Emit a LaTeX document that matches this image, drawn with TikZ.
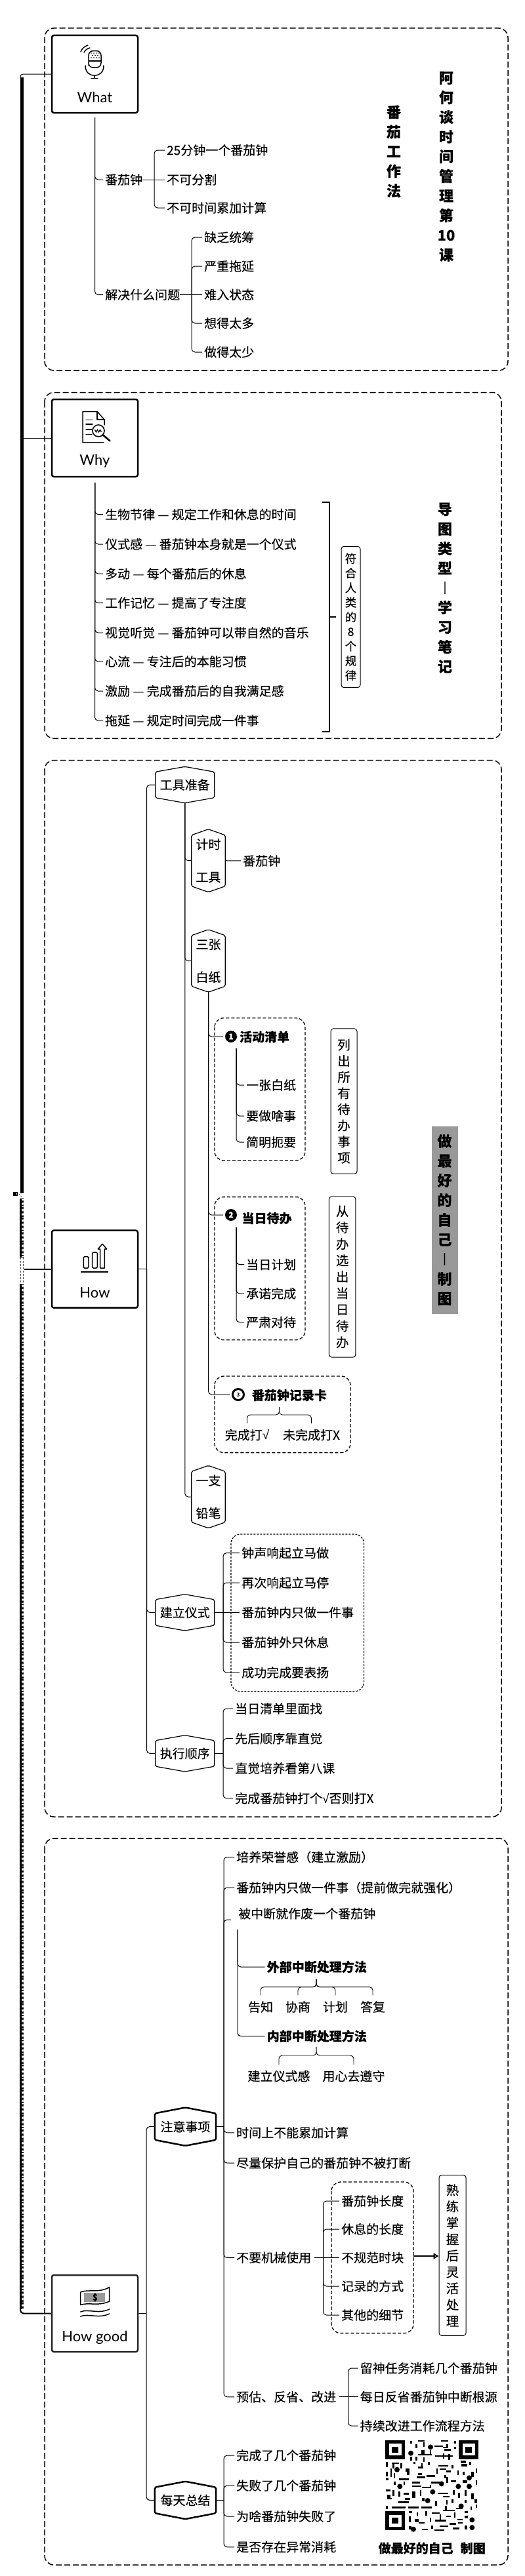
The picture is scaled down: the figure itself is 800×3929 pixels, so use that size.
\documentclass[tikz,border=0pt]{standalone}
\usepackage{fontspec}
\setmainfont{Noto Sans CJK SC}[FakeBold=0.15]
\newfontfamily\latinf{Lato}
\newfontfamily\symf{Liberation Sans}
\newcommand{\chk}{{\symf √}}
\usetikzlibrary{arrows.meta}
\tikzset{
  frame/.style={line width=1.5pt,dash pattern=on 9pt off 4pt,rounded corners=14pt},
  subframe/.style={line width=1.3pt,dash pattern=on 5pt off 3pt,rounded corners=14pt},
  rootbox/.style={draw,line width=2.5pt,rounded corners=3pt,inner sep=0pt,minimum width=131pt},
  rootlabel/.style={inner sep=0pt,font=\latinf\fontsize{22}{26}\selectfont},
  conn/.style={line width=1pt,rounded corners=5pt,shorten >=3pt},
  plainline/.style={line width=1pt},
  thickline/.style={line width=2pt},
  txt/.style={anchor=west,inner sep=0pt,text height=16.7pt,text depth=2.3pt,font=\fontsize{19}{24}\selectfont},
  btxt/.style={txt,font=\bfseries\fontsize{19}{24}\selectfont},
  ctxt/.style={inner sep=0pt,text height=16.7pt,text depth=2.3pt,font=\fontsize{19}{24}\selectfont},
  title/.style={inner sep=0pt,align=center,font=\bfseries\fontsize{22}{30}\selectfont},
  graytitle/.style={title,fill=black!40,minimum width=40pt,minimum height=286pt},
  vnote/.style={draw,line width=1pt,rounded corners=4pt,inner sep=0pt,align=center},
  hextext/.style={inner sep=0pt,align=center,font=\fontsize{19}{50}\selectfont},
  hexline/.style={line width=1.2pt,rounded corners=2pt,line join=round},
  hexthick/.style={line width=2.5pt,rounded corners=2pt,line join=round},
  numdot/.style={circle,fill=black,text=white,inner sep=0pt,minimum size=18pt,font=\bfseries\fontsize{12}{12}\selectfont},
  numring/.style={circle,draw,line width=3pt,inner sep=0pt,minimum size=17pt,font=\fontsize{8}{8}\selectfont},
  icon/.style={line width=1.5pt,line cap=round,line join=round},
  trunkline/.style={line width=5pt},
}
\newcommand{\hexn}[8]{% name, cx, cy, w, h, shoulder, style, text
  \node[hextext,minimum width=#4pt,minimum height=#5pt] (#1) at (#2,#3) {#8};
  \draw[#7] (#1.north) -- ([yshift=-#6pt]#1.north east) -- ([yshift=#6pt]#1.south east) -- (#1.south)
    -- ([yshift=#6pt]#1.south west) -- ([yshift=-#6pt]#1.north west) -- cycle;
}
\newcommand{\finder}[2]{%
  \fill (580+#1/3,3715+#2/3) rectangle (580+#1/3+30,3715+#2/3+29);
  \fill[white] (580+#1/3+5.5,3715+#2/3+5.5) rectangle (580+#1/3+24.5,3715+#2/3+23.5);
  \fill (580+#1/3+10,3715+#2/3+10) rectangle (580+#1/3+20,3715+#2/3+19);
}
\begin{document}
\begin{tikzpicture}[x=1pt,y=-1pt]
\useasboundingbox (0,0) rectangle (800,3929);
\fill[white] (0,0) rectangle (800,3929);

% dashed frames
\draw[frame] (68,43) rectangle (774,565);
\draw[frame] (68,598.5) rectangle (764,1126.4);
\draw[frame] (68,1159.5) rectangle (764,2771);
\draw[frame] (68,2804) rectangle (774,3912);

% ---------- root boxes
\node[rootbox,minimum height=118pt] (what) at (144.5,113) {};
\node[rootbox,minimum height=118pt] (why) at (144.5,668) {};
\node[rootbox,minimum height=118pt] (how) at (144.5,1935.7) {};
\node[rootbox,minimum height=117pt,draw=black!85] (good) at (144.5,3528.5) {};
\node[rootlabel] (whatl) at (144.5,148) {What};
\node[rootlabel] (whyl) at (144.5,703) {Why};
\node[rootlabel] (howl) at (144.5,1972) {How};
\node[rootlabel] (goodl) at (144.5,3565) {How good};

% trunk
\coordinate (trunktop) at (33,113);
\coordinate (trunkmid) at (33,1821);
\coordinate (trunkend) at (33,3528.4);
\draw[trunkline] (33,118) -- (trunkmid);
\draw[line width=1pt,rounded corners=4pt] (31,118) |- (what.west);
\draw[line width=1pt] (33,668) -- (why.west);
\draw[line width=3pt] (31,1821) -- (31,3522);
\draw[line width=4pt,dash pattern=on 1pt off 0.9pt] (34,1828) -- (34,3522);
\draw[thickline,rounded corners=5pt] (31,3515) |- (good.west);
\fill[white] (29,1918) rectangle (37,1958);
\draw[line width=0.8pt,dash pattern=on 3pt off 2pt,black!70] (31,1918) -- (31,1958) (35.5,1918) -- (35.5,1958);
\draw[thickline] (36.5,1935.7) -- (how.west);
\fill[white] (28,1820) rectangle (36,1828);
\fill (20,1818) rectangle (26.7,1824);
\fill[white] (24.5,1820) rectangle (26,1822);
\draw[line width=0.8pt,dash pattern=on 2pt off 2pt,black!70] (29,1821) -- (34,1827);

% ---------- What icon (microphone)
\draw[icon,rounded corners=7pt] (135,93) -- (135,77.5) -- (154,77.5) -- (154,103) -- (135,103) -- cycle;
\draw[line width=1.2pt] (135,93) -- (154,93);
\foreach \px/\py in {139/81,143/81,147/81,151/81,141/84.5,145/84.5,149/84.5,139/88,143/88,147/88,151/88}
  \fill (\px,\py) circle (0.9pt);
\draw[icon] (130,100) .. controls (130,110) and (136,115) .. (144,115) .. controls (152,115) and (158,110) .. (158,100);
\draw[icon] (144,115) -- (144,119) (139,119.5) -- (149,119.5);
\draw[icon] (123,79) .. controls (125,74) and (128,71) .. (134,69);
\draw[icon] (128,80) .. controls (130,76) and (133,74) .. (137,73);

% ---------- Why icon
\draw[icon] (159,648) -- (159,640) -- (148,627.5) -- (126,627.5) -- (126,675) -- (158,675);
\draw[icon] (148,627.5) -- (148,640) -- (159,640);
\draw[icon] (131,640.7) -- (141,640.7) (131,647) -- (141,647) (131,655) -- (140,655) (131,662.7) -- (140,662.7);
\draw[line width=1.6pt] (150,657) circle (9pt);
\draw[line width=1.2pt] (144.5,655.5) -- (146.5,659) -- (148.5,655.5) -- (150.5,659) -- (152.5,655.5) -- (154.5,659);
\draw[line width=2.6pt,line cap=round] (157,663.5) -- (167.5,672.5);

% ---------- How icon
\draw[icon,rounded corners=1.5pt] (127.3,1916.7) rectangle (135,1934);
\draw[icon,rounded corners=1.5pt] (140.7,1910) rectangle (148.3,1934);
\draw[icon] (152.7,1934) -- (152.7,1905) -- (149.3,1905) -- (156,1897.3) -- (162.7,1905) -- (159.3,1905) -- (159.3,1934) -- cycle;
\draw[line width=1.6pt] (123.3,1940) -- (165,1940);

% ---------- How good icon
\fill[black!40] (128,3497) rectangle (160,3511);
\draw[icon] (122.7,3496) .. controls (135,3491) and (150,3498) .. (166.7,3488.5) -- (166.7,3510)
  .. controls (150,3518) and (135,3511) .. (122.7,3515.5) -- cycle;
\node[inner sep=0pt,font=\bfseries\fontsize{13}{13}\selectfont] (dollar) at (145,3504) {\$};
\draw[icon] (122.7,3526) .. controls (135,3521) and (150,3530) .. (166.7,3522);
\draw[icon] (122.7,3533) .. controls (135,3528) and (150,3537) .. (166.7,3529);

% ---------- WHAT branch
\node[txt] (w1) at (160,274) {番茄钟};
\node[txt] (w2) at (160,449.5) {解决什么问题};
\draw[conn,shorten <=6pt] (what.south) |- (w1.west);
\draw[conn,shorten <=6pt] (what.south) |- (w2.west);
\node[txt] (w11) at (254,229) {25分钟一个番茄钟};
\node[txt] (w12) at (254,274) {不可分割};
\node[txt] (w13) at (254,317) {不可时间累加计算};
\coordinate (wb1) at (235,274);
\draw[conn] (w1.east) -- (w12.west);
\draw[conn] (wb1) |- (w11.west);
\draw[conn] (wb1) |- (w13.west);
\node[txt] (w21) at (311,362) {缺乏统筹};
\node[txt] (w22) at (311,406) {严重拖延};
\node[txt] (w23) at (311,449.5) {难入状态};
\node[txt] (w24) at (311,493) {想得太多};
\node[txt] (w25) at (311,537) {做得太少};
\coordinate (wb2) at (292,449.5);
\draw[conn] (w2.east) -- (w23.west);
\draw[conn] (wb2) |- (w21.west);
\draw[conn] (wb2) |- (w22.west);
\draw[conn] (wb2) |- (w24.west);
\draw[conn] (wb2) |- (w25.west);
\node[title] (t1) at (680,254) {阿\\何\\谈\\时\\间\\管\\理\\第\\10\\课};
\node[title] (t2) at (600,231) {番\\茄\\工\\作\\法};

% ---------- WHY branch
\foreach \nm/\yy/\tx in {
  y1/784.6/生物节律 — 规定工作和休息的时间,
  y2/830/仪式感 — 番茄钟本身就是一个仪式,
  y3/875/多动 — 每个番茄后的休息,
  y4/919.6/工作记忆 — 提高了专注度,
  y5/965/视觉听觉 — 番茄钟可以带自然的音乐,
  y6/1009/心流 — 专注后的本能习惯,
  y7/1054/激励 — 完成番茄后的自我满足感,
  y8/1099/拖延 — 规定时间完成一件事}{
  \node[txt] (\nm) at (160,\yy) {\tx};
  \draw[conn,shorten <=8pt] (why.south) |- (\nm.west);
}
\node[vnote,minimum width=29pt,minimum height=215.3pt,font=\fontsize{17.5}{22.3}\selectfont] (rule) at (534.5,941) {符\\合\\人\\类\\的\\8\\个\\规\\律};
\draw[line width=1.5pt] (491,766) -- (502,766) -- (502,1116) -- (491,1116);
\coordinate (brk) at (502,941);
\draw[line width=1.5pt,shorten >=8pt] (brk) -- (rule.west);
\node[title] (t3) at (678,896.7) {导\\图\\类\\型\\︱\\学\\习\\笔\\记};

% ---------- HOW branch
\coordinate (howbus) at (223.5,1935.7);
\draw[plainline] (how.east) -- (howbus);
\hexn{ha}{281.75}{1197}{89.5}{55}{8}{hexline}{工具准备}
\hexn{hb}{281.75}{2459.4}{89.5}{55}{8}{hexline}{建立仪式}
\hexn{hc}{281.75}{2674.4}{89.5}{55}{8}{hexline}{执行顺序}
\draw[plainline,rounded corners=5pt] (howbus) |- (ha.west);
\draw[plainline,rounded corners=5pt] (howbus) |- (hb.west);
\draw[plainline,rounded corners=5pt] (howbus) |- (hc.west);
\hexn{h1}{317.5}{1312.7}{51}{95.5}{9}{hexline}{计时\\工具}
\hexn{h2}{317.5}{1465.5}{51}{95}{9}{hexline}{三张\\白纸}
\hexn{h3}{317.5}{2283}{51}{95}{9}{hexline}{一支\\铅笔}
\draw[plainline,rounded corners=5pt] (ha.south) |- (h1.west);
\draw[plainline,rounded corners=5pt] (ha.south) |- (h2.west);
\draw[plainline,rounded corners=5pt] (ha.south) |- (h3.west);
\node[txt] (h11) at (370,1313) {番茄钟};
\draw[conn] (h1.east) -- (h11.west);

% three lists
\draw[subframe] (327,1552.7) rectangle (465,1770);
\draw[subframe] (327,1825.6) rectangle (465,2043.7);
\draw[subframe] (327,2099) rectangle (534,2215.6);
\node[numdot] (n1) at (352,1581) {1};
\node[numdot] (n2) at (352,1853) {2};
\node[numring] (n3) at (363,2127) {3};
\draw[conn] (h2.south) |- (n1.west);
\draw[conn] (h2.south) |- (n2.west);
\draw[conn] (h2.south) |- (n3.west);
\node[btxt] (a0) at (365,1581.4) {活动清单};
\node[txt] (a1) at (375,1655) {一张白纸};
\node[txt] (a2) at (375,1702) {要做啥事};
\node[txt] (a3) at (375,1742) {简明扼要};
\coordinate (ab) at (360,1599);
\draw[conn] (ab) |- (a1.west);
\draw[conn] (ab) |- (a2.west);
\draw[conn] (ab) |- (a3.west);
\node[vnote,minimum width=40pt,minimum height=221.5pt,font=\fontsize{19.5}{24.6}\selectfont] (an) at (524,1679.7) {列\\出\\所\\有\\待\\办\\事\\项};
\node[btxt] (b0) at (368.4,1858) {当日待办};
\node[txt] (b1) at (375,1928.7) {当日计划};
\node[txt] (b2) at (375,1973) {承诺完成};
\node[txt] (b3) at (375,2016.7) {严肃对待};
\coordinate (bb) at (360,1872);
\draw[conn] (bb) |- (b1.west);
\draw[conn] (bb) |- (b2.west);
\draw[conn] (bb) |- (b3.west);
\node[vnote,minimum width=40.5pt,minimum height=245pt,font=\fontsize{19.5}{25}\selectfont] (bn) at (521.7,1947.5) {从\\待\\办\\选\\出\\当\\日\\待\\办};
\node[btxt] (c0) at (383.7,2128) {番茄钟记录卡};
\coordinate (cb) at (425.5,2146);
\node[ctxt] (c1) at (376.5,2188.6) {完成打\chk};
\node[ctxt] (c2) at (474.5,2188.6) {未完成打X};
\draw[line width=0.9pt,rounded corners=5pt,shorten >=8pt] (cb) -- ++(0,12) -| (c1.north);
\draw[line width=0.9pt,rounded corners=5pt,shorten >=8pt] (cb) -- ++(0,12) -| (c2.north);
\node[graytitle] (t4) at (677.5,1860.5) {做\\最\\好\\的\\自\\己\\︱\\制\\图};

% ritual
\draw[line width=1.2pt,dash pattern=on 3pt off 2pt,rounded corners=14pt] (352,2340) rectangle (554.6,2579.7);
\node[txt] (r1) at (368,2368.6) {钟声响起立马做};
\node[txt] (r2) at (368,2414) {再次响起立马停};
\node[txt] (r3) at (368,2459.4) {番茄钟内只做一件事};
\node[txt] (r4) at (368,2505) {番茄钟外只休息};
\node[txt] (r5) at (368,2551) {成功完成要表扬};
\coordinate (rb) at (340,2459.4);
\draw[conn] (hb.east) -- (r3.west);
\draw[conn] (rb) |- (r1.west);
\draw[conn] (rb) |- (r2.west);
\draw[conn] (rb) |- (r4.west);
\draw[conn] (rb) |- (r5.west);
% order
\node[txt] (o1) at (358,2606) {当日清单里面找};
\node[txt] (o2) at (358,2651.6) {先后顺序靠直觉};
\node[txt] (o3) at (358,2697) {直觉培养看第八课};
\node[txt] (o4) at (358,2742.8) {完成番茄钟打个\chk 否则打X};
\coordinate (ob) at (340,2674.4);
\draw[plainline] (hc.east) -- (ob);
\draw[conn] (ob) |- (o1.west);
\draw[conn] (ob) |- (o2.west);
\draw[conn] (ob) |- (o3.west);
\draw[conn] (ob) |- (o4.west);

% ---------- HOW GOOD branch
\coordinate (goodbus) at (223,3528.4);
\draw[plainline] (good.east) -- (goodbus);
\hexn{ga}{282.5}{3243.6}{93}{58}{9}{hexthick}{注意事项}
\hexn{gb}{282.5}{3813.4}{93}{57}{9}{hexthick}{每天总结}
\draw[plainline,rounded corners=5pt] (goodbus) |- (ga.west);
\draw[plainline,rounded corners=5pt] (goodbus) |- (gb.west);
\coordinate (gbus) at (341,3243.6);
\draw[plainline] (ga.east) -- (gbus);
\node[txt] (g1) at (360,2832.5) {培养荣誉感（建立激励）};
\node[txt] (g2) at (360,2879) {番茄钟内只做一件事（提前做完就强化）};
\node[txt] (g3) at (363,2918.7) {被中断就作废一个番茄钟};
\node[txt] (g4) at (360,3252.8) {时间上不能累加计算};
\node[txt] (g5) at (360,3299) {尽量保护自己的番茄钟不被打断};
\node[txt] (g6) at (360,3443.4) {不要机械使用};
\node[txt] (g7) at (360,3655.8) {预估、反省、改进};
\draw[conn] (gbus) |- (g1.west);
\draw[conn] (gbus) |- (g2.west);
\draw[conn,rounded corners=5pt] (gbus) |- (355,2928);
\draw[conn] (gbus) |- (g4.west);
\draw[conn] (gbus) |- (g5.west);
\draw[conn] (gbus) |- (g6.west);
\draw[conn] (gbus) |- (g7.west);
% interruptions
\node[btxt] (e0) at (406.6,3000) {外部中断处理方法};
\node[btxt] (i0) at (406.6,3105.6) {内部中断处理方法};
\coordinate (eb) at (362,2943);
\draw[conn] (eb) |- (e0.west);
\draw[conn] (eb) |- (i0.west);
\coordinate (etop) at (482,3018.6);
\foreach \nm/\xx/\tx in {e1/397/告知,e2/454/协商,e3/511/计划,e4/568/答复}{
  \node[ctxt] (\nm) at (\xx,3061) {\tx};
  \draw[line width=0.9pt,rounded corners=5pt,shorten >=8pt] (etop) -- ++(0,12) -| (\nm.north);
}
\coordinate (itop) at (482,3122);
\node[ctxt] (i1) at (425,3166.6) {建立仪式感};
\node[ctxt] (i2) at (539,3166.6) {用心去遵守};
\draw[line width=0.9pt,rounded corners=5pt,shorten >=8pt] (itop) -- ++(0,13) -| (i1.north);
\draw[line width=0.9pt,rounded corners=5pt,shorten >=8pt] (itop) -- ++(0,13) -| (i2.north);
% do not use mechanically
\draw[subframe] (505,3328) rectangle (630,3558.6);
\node[txt] (m1) at (520,3357) {番茄钟长度};
\node[txt] (m2) at (520,3400) {休息的长度};
\node[txt] (m3) at (520,3443.4) {不规范时块};
\node[txt] (m4) at (520,3487) {记录的方式};
\node[txt] (m5) at (520,3531) {其他的细节};
\coordinate (mb) at (492.5,3443.4);
\draw[conn] (g6.east) ++(5,0) -- (m3.west);
\draw[conn] (mb) |- (m1.west);
\draw[conn] (mb) |- (m2.west);
\draw[conn] (mb) |- (m4.west);
\draw[conn] (mb) |- (m5.west);
\node[vnote,minimum width=41pt,minimum height=244.8pt,font=\fontsize{19.5}{25}\selectfont] (mn) at (689.5,3439.9) {熟\\练\\掌\\握\\后\\灵\\活\\处\\理};
\coordinate (mr) at (630,3441);
\draw[line width=2.2pt,-{Triangle[open,length=8pt,width=9pt]}] (mr) -- (mr -| mn.west);
% estimate
\node[txt] (p1) at (548.5,3612) {留神任务消耗几个番茄钟};
\node[txt] (p2) at (548.5,3655.8) {每日反省番茄钟中断根源};
\node[txt] (p3) at (548.5,3700) {持续改进工作流程方法};
\coordinate (pb) at (530.6,3655.8);
\draw[conn] (g7.east) ++(5,0) -- (p2.west);
\draw[conn] (pb) |- (p1.west);
\draw[conn] (pb) |- (p3.west);
% daily
\node[txt] (d1) at (360,3745) {完成了几个番茄钟};
\node[txt] (d2) at (360,3791) {失败了几个番茄钟};
\node[txt] (d3) at (360,3838) {为啥番茄钟失败了};
\node[txt] (d4) at (360,3884.7) {是否存在异常消耗};
\coordinate (db) at (341,3813.4);
\draw[plainline] (gb.east) -- (db);
\draw[conn] (db) |- (d1.west);
\draw[conn] (db) |- (d2.west);
\draw[conn] (db) |- (d3.west);
\draw[conn] (db) |- (d4.west);

% ---------- QR code
\finder{22}{20}
\finder{358}{20}
\finder{22}{346}
\foreach \a/\b/\c/\d in {170/20/200/26,275/20/310/26,160/38/168/58,195/30/202/50,245/44/285/50,285/50/310/56,290/60/320/68,300/40/308/50,335/25/345/35,335/50/345/60,185/65/200/85,170/85/235/91,250/90/330/96,135/25/145/35,135/95/145/115,160/95/168/115,195/100/202/120,225/65/232/85,285/80/292/105,310/85/318/110,50/122/85/128,25/120/32/145,55/130/62/150,90/125/100/150,150/120/160/128,170/140/195/150,185/125/192/140,215/120/225/135,265/135/310/142,270/150/300/156,325/135/332/150,365/115/390/125,370/130/395/140,405/120/415/135,435/150/442/170,45/150/52/190,25/165/32/185,60/170/67/195,115/150/132/165,120/165/132/180,165/185/205/195,170/170/190/180,210/180/250/188,255/150/262/175,300/160/320/168,290/180/300/195,350/160/358/180,375/165/385/180,415/165/425/190,25/195/35/205,85/195/130/203,105/210/112/225,60/210/70/225,145/210/180/218,145/228/185/234,190/235/230/241,230/210/270/218,225/225/232/240,300/190/310/215,320/205/345/212,375/205/395/215,435/205/442/225,25/245/45/255,30/270/45/290,55/250/62/275,80/255/90/280,105/260/130/270,145/255/160/285,180/250/187/275,260/262/310/268,285/275/315/282,330/250/340/270,355/260/362/285,385/250/392/275,415/265/425/290,30/285/50/292,110/285/135/295,80/300/130/308,190/285/200/300,250/300/257/320,300/295/307/315,325/290/332/310,385/295/392/310,430/290/440/310,25/320/32/335,50/325/115/332,125/325/175/332,185/325/235/332,295/320/302/340,345/330/375/337,410/325/418/340,435/315/442/330,130/345/145/355,165/350/172/370,205/345/212/365,235/350/270/356,285/340/340/346,270/360/277/385,300/365/320/372,335/350/342/375,385/345/400/355,385/365/400/378,130/370/137/395,155/380/175/395,175/395/200/402,225/375/232/395,250/385/300/392,350/380/375/387,355/395/375/402,315/400/345/407,270/412/310/418,190/425/215/431,245/428/290/434,330/420/360/428,385/410/395/430,130/415/140/430,230/410/240/425}
  \fill (580+\a/3,3715+\b/3) rectangle (580+\c/3,3715+\d/3);
\foreach \a/\b in {228/52,138/80,75/155,405/193,278/220,88/232,355/232,405/232,238/257,215/297,368/322,418/385,150/428,418/420}
  \fill (580+\a/3,3715+\b/3) circle (4pt);
\node[btxt,anchor=west] (sign) at (576.5,3886.6) {做最好的自己};
\node[btxt,anchor=west] (sign2) at (701.5,3886.6) {制图};
\end{tikzpicture}
\end{document}
